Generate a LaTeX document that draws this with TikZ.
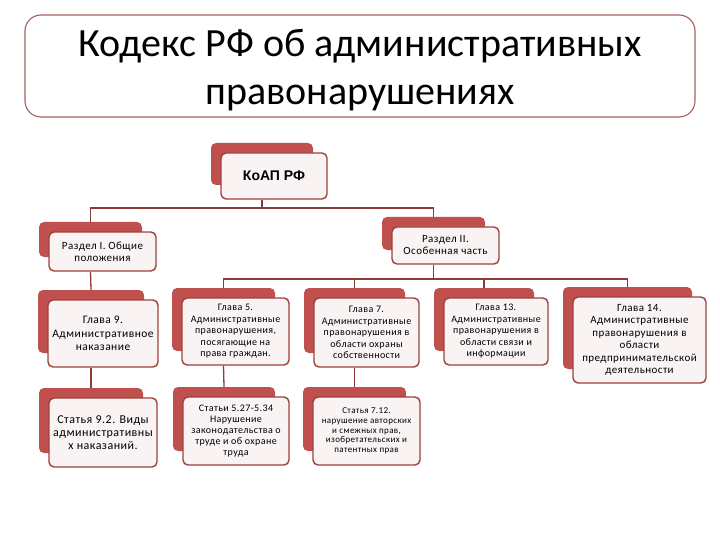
\documentclass[tikz,border=0pt]{standalone}
\usepackage{fontspec}
\setmainfont{Carlito}
\newfontfamily\arialfont{Liberation Sans}
\newfontfamily\cardfont[LetterSpace=4]{Carlito}
\definecolor{backred}{HTML}{C0504D}
\definecolor{edgered}{HTML}{9E403D}
\definecolor{linered}{HTML}{8E3B38}
\definecolor{cardfill}{HTML}{FAF3F3}
\definecolor{titleedge}{HTML}{A5605E}
\tikzset{
  backbox/.style={draw=none, fill=backred, rounded corners=5pt, inner sep=0pt},
  frontbox/.style={draw=edgered, line width=1.4pt, fill=cardfill, rounded corners=5pt, inner sep=1pt, align=center},
  conn/.style={draw=linered, line width=1.3pt},
  titlebox/.style={draw=titleedge, line width=1.1pt, fill=white, rounded corners=16pt, inner sep=0pt},
}
\newcommand\mycard[7]{%
  \node[backbox, minimum width=#4pt-4pt, minimum height=#5pt-4pt] (#1b) at (#2-12,#3-12) {};
  \node[frontbox, minimum width=#4pt, minimum height=#5pt, font=#6] (#1) at (#2,#3) {#7};
}
\begin{document}
\begin{tikzpicture}[x=1pt,y=-1pt]
\useasboundingbox (0,0) rectangle (720,540);
% title
\node[titlebox, minimum width=670pt, minimum height=102pt] (title) at (360,66) {};
\node[align=center, inner sep=0pt, font=\fontsize{40}{48}\selectfont] (titletext) at (360,70)
  {Кодекс РФ об административных\\правонарушениях};
% cards
\mycard{k}{274}{176}{106}{46}{\arialfont\bfseries\fontsize{14}{16}\selectfont}{КоАП РФ}
\mycard{ra}{102.5}{251.5}{107}{39}{\cardfont\fontsize{11}{12}\selectfont}{Раздел I. Общие\\положения}
\mycard{rb}{445.5}{245.5}{107}{37}{\cardfont\fontsize{11}{12}\selectfont}{Раздел II.\\Особенная часть}
\mycard{g9}{103}{333.5}{110}{67}{\cardfont\fontsize{11.5}{13.5}\selectfont}{Глава 9.\\Административное\\наказание}
\mycard{g5}{235.5}{331.5}{107}{67}{\cardfont\fontsize{10}{11.5}\selectfont}{Глава 5.\\Административные\\правонарушения,\\посягающие на\\права граждан.}
\mycard{g7}{366.5}{332.5}{105}{69}{\cardfont\fontsize{10}{11.5}\selectfont}{Глава 7.\\Административные\\правонарушения в\\области охраны\\собственности}
\mycard{g13}{496}{331.5}{104}{67}{\cardfont\fontsize{10}{11.5}\selectfont}{Глава 13.\\Административные\\правонарушения в\\области связи и\\информации}
\mycard{g14}{639.5}{340}{133}{86}{\cardfont\fontsize{11}{12.5}\selectfont}{Глава 14.\\Административные\\правонарушения в\\области\\предпринимательской\\деятельности}
\mycard{s9}{103}{432.5}{108}{69}{\cardfont\fontsize{12}{13}\selectfont}{Статья 9.2. Виды\\административны\\х наказаний.}
\mycard{s5}{236}{431}{106}{68}{\cardfont\fontsize{10}{11}\selectfont}{Статьи 5.27-5.34\\Нарушение\\законодательства о\\труде и об охране\\труда}
\mycard{s7}{366.5}{431}{107}{68}{\cardfont\fontsize{9}{9.6}\selectfont}{Статья 7.12.\\нарушение авторских\\и смежных прав,\\изобретательских и\\патентных прав}
% buses
\coordinate (bus1) at (0,208);
\coordinate (bus2) at (0,279);
% connectors
\draw[conn] (kb |- k.south) -- (kb |- bus1);
\draw[conn] (rab.north) -- (rab |- bus1) -- (rbb |- bus1) -- (rbb.north);
\draw[conn] (rbb |- rb.south) -- (rbb |- bus2);
\draw[conn] (g5b.north) -- (g5b |- bus2) -- (g14b |- bus2) -- (g14b.north);
\draw[conn] (g7b |- bus2) -- (g7b.north);
\draw[conn] (g13b |- bus2) -- (g13b.north);
\draw[conn] (rab |- ra.south) -- (g9b.north);
\draw[conn] (g9b |- g9.south) -- (s9b.north);
\draw[conn] (g5b |- g5.south) -- (s5b.north);
\draw[conn] (g7b |- g7.south) -- (s7b.north);
\end{tikzpicture}
\end{document}
